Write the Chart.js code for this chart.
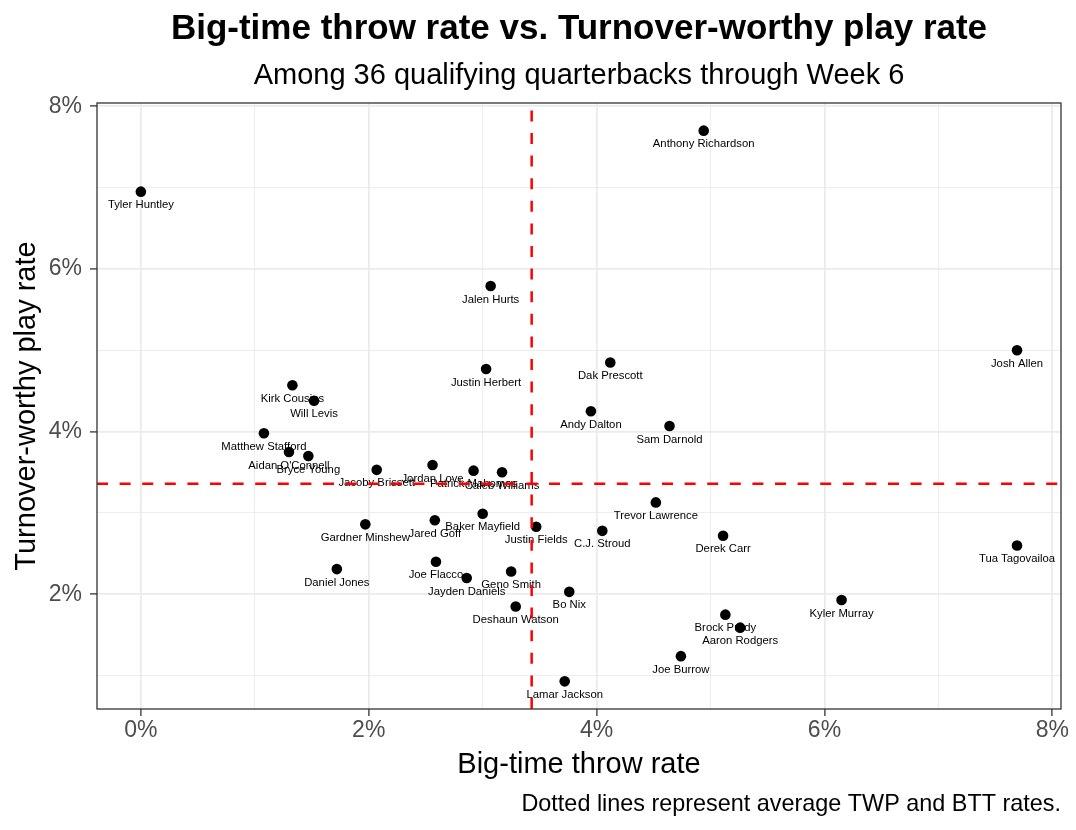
<!DOCTYPE html>
<html lang="en">
<head>
  <meta charset="UTF-8">
  <title>Big-time throw rate vs. Turnover-worthy play rate</title>
  <script src="https://cdn.jsdelivr.net/npm/chart.js@4.4.1/dist/chart.umd.min.js"></script>
  <style>
    html, body { margin: 0; padding: 0; background: #fff; }
    #wrap { width: 1076px; height: 830px; }
  </style>
</head>
<body>
  <div id="wrap"><canvas id="qbChart"></canvas></div>

  <script>
    // values, in percent
    var players = [
      'Tyler Huntley', 'Anthony Richardson', 'Jalen Hurts', 'Josh Allen', 'Dak Prescott',
      'Justin Herbert', 'Kirk Cousins', 'Will Levis', 'Andy Dalton', 'Sam Darnold',
      'Matthew Stafford', "Aidan O'Connell", 'Bryce Young', 'Jacoby Brissett', 'Jordan Love',
      'Patrick Mahomes', 'Caleb Williams', 'Trevor Lawrence', 'Baker Mayfield', 'Jared Goff',
      'Gardner Minshew', 'Justin Fields', 'C.J. Stroud', 'Derek Carr', 'Tua Tagovailoa',
      'Daniel Jones', 'Joe Flacco', 'Jayden Daniels', 'Geno Smith', 'Bo Nix',
      'Deshaun Watson', 'Kyler Murray', 'Brock Purdy', 'Aaron Rodgers', 'Joe Burrow',
      'Lamar Jackson'
    ];
    var bttRate = [
      0.00, 4.94, 3.07, 7.69, 4.12,
      3.03, 1.33, 1.52, 3.95, 4.64,
      1.08, 1.30, 1.47, 2.07, 2.56,
      2.92, 3.17, 4.52, 3.00, 2.58,
      1.97, 3.47, 4.05, 5.11, 7.69,
      1.72, 2.59, 2.86, 3.25, 3.76,
      3.29, 6.15, 5.13, 5.26, 4.74,
      3.72
    ];
    var twpRate = [
      6.95, 7.70, 5.79, 5.00, 4.85,
      4.77, 4.57, 4.38, 4.25, 4.07,
      3.98, 3.75, 3.70, 3.53, 3.59,
      3.52, 3.50, 3.13, 2.99, 2.91,
      2.86, 2.83, 2.78, 2.72, 2.60,
      2.31, 2.40, 2.20, 2.28, 2.03,
      1.85, 1.93, 1.75, 1.59, 1.24,
      0.93
    ];
    var avgBtt = 3.43;
    var avgTwp = 3.36;

    var xRange = [-0.385, 8.076];
    var yRange = [0.59, 8.04];

    var FONT = '"Liberation Sans", Arial, Helvetica, sans-serif';

    var points = players.map(function (p, i) {
      return { x: bttRate[i], y: twpRate[i] };
    });

    // names under each dot, drawn right after the scatter dataset
    var pointLabels = {
      id: 'pointLabels',
      afterDatasetDraw: function (chart, args) {
        if (args.index !== 2) return;
        var ctx = chart.ctx;
        ctx.save();
        ctx.font = '11.3px ' + FONT;
        ctx.fillStyle = '#000';
        ctx.textAlign = 'center';
        ctx.textBaseline = 'middle';
        args.meta.data.forEach(function (pt, i) {
          ctx.fillText(players[i], pt.x, pt.y + 13.5);
        });
        ctx.restore();
      }
    };

    // panel border + titles, axis titles and caption
    var frameAndText = {
      id: 'frameAndText',
      afterDatasetsDraw: function (chart) {
        var a = chart.chartArea, ctx = chart.ctx;
        ctx.save();
        ctx.strokeStyle = '#333333';
        ctx.lineWidth = 1.3;
        ctx.strokeRect(a.left, a.top, a.right - a.left, a.bottom - a.top);
        ctx.restore();
      },
      afterDraw: function (chart) {
        var a = chart.chartArea, ctx = chart.ctx;
        var cx = (a.left + a.right) / 2;
        var cy = (a.top + a.bottom) / 2;
        ctx.save();
        ctx.fillStyle = '#000';
        ctx.textBaseline = 'alphabetic';
        ctx.textAlign = 'center';

        ctx.font = 'bold 35px ' + FONT;
        ctx.fillText('Big-time throw rate vs. Turnover-worthy play rate', cx, 39);

        ctx.font = '29px ' + FONT;
        ctx.fillText('Among 36 qualifying quarterbacks through Week 6', cx, 84);

        ctx.font = '29px ' + FONT;
        ctx.fillText('Big-time throw rate', cx, 773);

        ctx.save();
        ctx.translate(35, cy);
        ctx.rotate(-Math.PI / 2);
        ctx.fillText('Turnover-worthy play rate', 0, 0);
        ctx.restore();

        ctx.font = '23.4px ' + FONT;
        ctx.textAlign = 'right';
        ctx.fillText('Dotted lines represent average TWP and BTT rates.', a.right, 811);
        ctx.restore();
      }
    };

    function gridWidth(c) { return c.tick && c.tick.value % 2 === 0 ? 1.8 : 0.9; }
    function tickCol(c) { return c.tick && c.tick.value % 2 === 0 ? '#333333' : 'rgba(0,0,0,0)'; }
    function pct(v) { return v % 2 === 0 ? v + '%' : ''; }

    var ctx = document.getElementById('qbChart').getContext('2d');
    var qbChart = new Chart(ctx, {
      type: 'scatter',
      data: {
        datasets: [
          {
            type: 'line',
            data: [{ x: avgBtt, y: yRange[0] }, { x: avgBtt, y: yRange[1] }],
            borderColor: '#ff0000',
            borderWidth: 2.5,
            borderDash: [11, 11.6],
            pointRadius: 0,
            fill: false
          },
          {
            type: 'line',
            data: [{ x: xRange[0], y: avgTwp }, { x: xRange[1], y: avgTwp }],
            borderColor: '#ff0000',
            borderWidth: 2.5,
            borderDash: [11, 11.6],
            pointRadius: 0,
            fill: false
          },
          {
            data: points,
            backgroundColor: '#000',
            borderWidth: 0,
            pointRadius: 5.3,
            pointHoverRadius: 5.3
          }
        ]
      },
      options: {
        responsive: true,
        maintainAspectRatio: false,
        animation: false,
        layout: { padding: { top: 103, right: 15, left: 0, bottom: 0 } },
        plugins: {
          legend: { display: false },
          tooltip: { enabled: false },
          title: { display: false }
        },
        scales: {
          x: {
            type: 'linear',
            min: xRange[0],
            max: xRange[1],
            afterFit: function (s) { s.height = 121; },
            border: { display: false },
            grid: { color: '#ebebeb', lineWidth: gridWidth, tickLength: 7, tickColor: tickCol, tickWidth: 1.3 },
            ticks: {
              stepSize: 1, includeBounds: false, autoSkip: false, maxRotation: 0,
              padding: 1, color: '#4d4d4d', font: { family: FONT, size: 23 },
              callback: pct
            }
          },
          y: {
            type: 'linear',
            min: yRange[0],
            max: yRange[1],
            afterFit: function (s) { s.width = 97; },
            border: { display: false },
            grid: { color: '#ebebeb', lineWidth: gridWidth, tickLength: 7, tickColor: tickCol, tickWidth: 1.3 },
            ticks: {
              stepSize: 1, includeBounds: false, autoSkip: false,
              padding: 8, color: '#4d4d4d', font: { family: FONT, size: 23 },
              callback: pct
            }
          }
        }
      },
      plugins: [pointLabels, frameAndText]
    });
  </script>
</body>
</html>
